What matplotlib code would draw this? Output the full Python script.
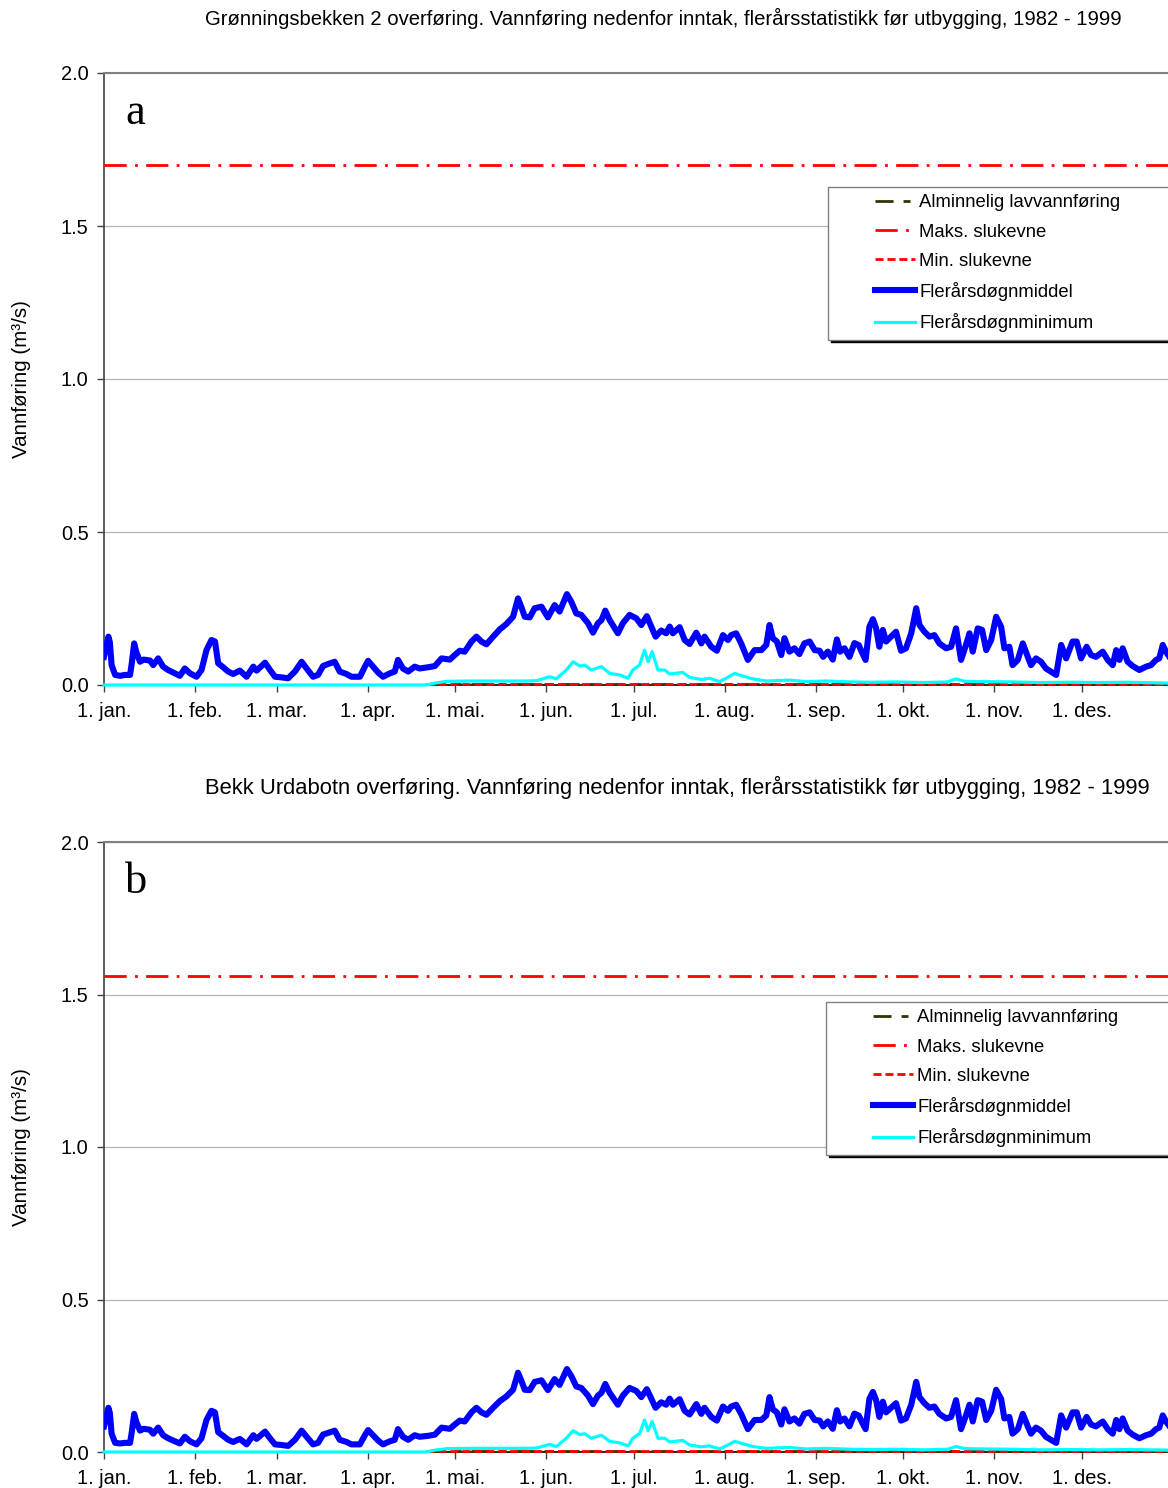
import matplotlib
matplotlib.use("Agg")
import matplotlib.pyplot as plt
from matplotlib.lines import Line2D
from matplotlib.legend_handler import HandlerTuple

plt.rcParams['font.family'] = ['Liberation Sans', 'DejaVu Sans']

# ---------------- data ----------------
month_days = [0, 31, 59, 90, 120, 151, 181, 212, 243, 273, 304, 334]
month_labels = ["1. jan.", "1. feb.", "1. mar.", "1. apr.", "1. mai.", "1. jun.",
                "1. jul.", "1. aug.", "1. sep.", "1. okt.", "1. nov.", "1. des."]

titles = ["Grønningsbekken 2 overføring. Vannføring nedenfor inntak, flerårsstatistikk før utbygging, 1982 - 1999",
          "Bekk Urdabotn overføring. Vannføring nedenfor inntak, flerårsstatistikk før utbygging, 1982 - 1999"]
panel_letters = ["a", "b"]
legend_labels = ["Alminnelig lavvannføring", "Maks. slukevne", "Min. slukevne",
                 "Flerårsdøgnmiddel", "Flerårsdøgnminimum"]

days_mean = [0, 1.5, 2, 2.6, 3.8, 5.5, 7.2, 8.9, 9.5, 10.3,
             11, 12.3, 13.5, 15.7, 16.8, 18.5, 20.2, 21.9, 24.2, 25.9,
             27.6, 29.4, 31.6, 33.3, 35, 36.7, 37.9, 39, 40.7, 42.4,
             44.1, 46.4, 48.7, 51, 52.1, 55, 56.7, 58.4, 60.6, 62.9,
             65.2, 67.5, 69.2, 71.4, 73.1, 74.8, 76.6, 78.8, 80.5, 82.8,
             84.5, 87.4, 89.1, 90.2, 91.9, 93.6, 95.3, 97.6, 99.3, 100.4,
             102.1, 103.9, 106.1, 107.8, 110.7, 113, 115.3, 118.1, 119.8, 121.5,
             123.2, 125.5, 127.2, 128.9, 130.6, 132.9, 135.2, 137.4, 139.7, 141.4,
             142.6, 143.7, 145.4, 147.1, 149.4, 151.6, 153.9, 155.6, 158.1, 159.6,
             161.3, 163, 165.3, 167, 168.7, 169.9, 171.2, 172.7, 175.5, 177.2,
             179.5, 181.8, 183.5, 185.4, 186.9, 188.4, 190.3, 192, 193.2, 194.3,
             196.6, 198.3, 200, 202.3, 204, 205.1, 207.4, 209.3, 211.4, 213.1,
             214.2, 215.9, 217.6, 219.9, 222.2, 224.5, 226.2, 227.3, 228.4, 229.8,
             231.3, 232.4, 234.1, 235.8, 237.5, 239.2, 241, 242.7, 244.4, 245.6,
             247.2, 248.9, 250.3, 251.4, 252.9, 254.6, 256.3, 257.8, 258.6, 260.1,
             261.4, 262.6, 263.7, 264.8, 266, 267.1, 268.8, 270.5, 272.2, 273.9,
             275.7, 277.4, 278.5, 280.2, 281.9, 283.6, 285.3, 287.6, 289.3, 291,
             292.7, 294.4, 295.6, 296.7, 298.4, 299.9, 301.3, 303, 304.7, 306.4,
             307.5, 309.2, 310.3, 312.1, 313.8, 315.5, 316.6, 318.3, 320, 321.7,
             323.4, 325.2, 326.9, 328.6, 330.8, 332.2, 333.7, 335.6, 337.1, 338.8,
             341.1, 342.8, 344.5, 345.7, 346.8, 347.9, 349.6, 351.3, 353.6, 355.9,
             357.6, 359.3, 360.4, 361.6, 362.7, 364]

mean_a = [0.092, 0.158, 0.14, 0.065, 0.033, 0.03, 0.033, 0.033, 0.072, 0.136,
          0.109, 0.076, 0.083, 0.08, 0.065, 0.087, 0.06, 0.049, 0.038, 0.03,
          0.054, 0.038, 0.027, 0.049, 0.114, 0.147, 0.142, 0.071, 0.058, 0.044,
          0.036, 0.047, 0.027, 0.06, 0.047, 0.073, 0.049, 0.027, 0.025, 0.022,
          0.044, 0.076, 0.054, 0.027, 0.033, 0.062, 0.069, 0.076, 0.044, 0.036,
          0.027, 0.027, 0.06, 0.079, 0.06, 0.041, 0.027, 0.038, 0.044, 0.082,
          0.054, 0.044, 0.06, 0.054, 0.058, 0.062, 0.087, 0.083, 0.098, 0.112,
          0.109, 0.142, 0.158, 0.142, 0.133, 0.158, 0.182, 0.199, 0.223, 0.283,
          0.253, 0.223, 0.221, 0.251, 0.256, 0.221, 0.261, 0.24, 0.297, 0.272,
          0.234, 0.229, 0.202, 0.171, 0.202, 0.212, 0.243, 0.212, 0.169, 0.202,
          0.229, 0.218, 0.196, 0.225, 0.191, 0.158, 0.178, 0.169, 0.191, 0.169,
          0.189, 0.147, 0.134, 0.171, 0.136, 0.158, 0.125, 0.112, 0.163, 0.147,
          0.163, 0.169, 0.136, 0.082, 0.114, 0.114, 0.131, 0.196, 0.153, 0.142,
          0.098, 0.153, 0.109, 0.12, 0.101, 0.136, 0.142, 0.114, 0.112, 0.092,
          0.109, 0.083, 0.149, 0.109, 0.12, 0.092, 0.137, 0.13, 0.112, 0.082,
          0.19, 0.215, 0.185, 0.125, 0.18, 0.142, 0.158, 0.174, 0.112, 0.12,
          0.169, 0.251, 0.196, 0.174, 0.158, 0.163, 0.136, 0.12, 0.125, 0.185,
          0.082, 0.131, 0.169, 0.109, 0.185, 0.18, 0.114, 0.147, 0.223, 0.19,
          0.12, 0.125, 0.065, 0.082, 0.136, 0.092, 0.065, 0.087, 0.076, 0.054,
          0.044, 0.033, 0.131, 0.087, 0.142, 0.142, 0.087, 0.125, 0.098, 0.092,
          0.109, 0.082, 0.065, 0.114, 0.082, 0.12, 0.076, 0.062, 0.049, 0.06,
          0.065, 0.082, 0.087, 0.131, 0.109, 0.09]

mean_b = [0.084, 0.145, 0.128, 0.060, 0.030, 0.028, 0.030, 0.030, 0.066, 0.125,
          0.100, 0.070, 0.076, 0.073, 0.060, 0.080, 0.055, 0.045, 0.035, 0.028,
          0.050, 0.035, 0.025, 0.045, 0.105, 0.135, 0.130, 0.065, 0.053, 0.040,
          0.033, 0.043, 0.025, 0.055, 0.043, 0.067, 0.045, 0.025, 0.023, 0.020,
          0.040, 0.070, 0.050, 0.025, 0.030, 0.057, 0.063, 0.070, 0.040, 0.033,
          0.025, 0.025, 0.055, 0.072, 0.055, 0.038, 0.025, 0.035, 0.040, 0.075,
          0.050, 0.040, 0.055, 0.050, 0.053, 0.057, 0.080, 0.076, 0.090, 0.103,
          0.100, 0.130, 0.145, 0.130, 0.122, 0.145, 0.167, 0.182, 0.204, 0.260,
          0.232, 0.204, 0.203, 0.230, 0.235, 0.203, 0.239, 0.220, 0.272, 0.249,
          0.215, 0.210, 0.185, 0.157, 0.185, 0.194, 0.223, 0.194, 0.155, 0.185,
          0.210, 0.200, 0.180, 0.206, 0.175, 0.145, 0.163, 0.155, 0.175, 0.155,
          0.173, 0.135, 0.123, 0.157, 0.125, 0.145, 0.115, 0.103, 0.149, 0.135,
          0.149, 0.155, 0.125, 0.075, 0.105, 0.105, 0.120, 0.180, 0.140, 0.130,
          0.090, 0.140, 0.100, 0.110, 0.093, 0.125, 0.130, 0.105, 0.103, 0.084,
          0.100, 0.076, 0.137, 0.100, 0.110, 0.084, 0.126, 0.119, 0.103, 0.075,
          0.174, 0.197, 0.170, 0.115, 0.165, 0.130, 0.145, 0.160, 0.103, 0.110,
          0.155, 0.230, 0.180, 0.160, 0.145, 0.149, 0.125, 0.110, 0.115, 0.170,
          0.075, 0.120, 0.155, 0.100, 0.170, 0.165, 0.105, 0.135, 0.204, 0.174,
          0.110, 0.115, 0.060, 0.075, 0.125, 0.084, 0.060, 0.080, 0.070, 0.050,
          0.040, 0.030, 0.120, 0.080, 0.130, 0.130, 0.080, 0.115, 0.090, 0.084,
          0.100, 0.075, 0.060, 0.105, 0.075, 0.110, 0.070, 0.057, 0.045, 0.055,
          0.060, 0.075, 0.080, 0.120, 0.100, 0.083]

days_min = [0, 110, 113, 117, 125, 135, 143, 147.7, 152.2, 154.5,
            157.9, 160.2, 162.5, 164.2, 166.4, 169.9, 172.7, 176.1, 179, 180.6,
            182.9, 184.6, 185.8, 187.2, 189.2, 191.5, 193.2, 194.9, 197.7, 200,
            204, 206.8, 210.2, 212.5, 215.4, 218.2, 221.6, 226.2, 234.1, 239.8,
            246.6, 255, 262, 270, 280, 288, 291, 294, 300, 310,
            320, 330, 340, 350, 364]

min_a = [0, 0, 0.006, 0.012, 0.013, 0.013, 0.013, 0.014, 0.027, 0.02,
         0.049, 0.076, 0.062, 0.065, 0.049, 0.06, 0.038, 0.033, 0.022, 0.049,
         0.065, 0.114, 0.076, 0.109, 0.049, 0.049, 0.036, 0.038, 0.041, 0.025,
         0.018, 0.022, 0.011, 0.022, 0.038, 0.029, 0.02, 0.013, 0.016, 0.011,
         0.013, 0.01, 0.009, 0.01, 0.008, 0.01, 0.02, 0.012, 0.011, 0.01,
         0.008, 0.009, 0.008, 0.009, 0.006]

min_b = [0, 0, 0.006, 0.011, 0.012, 0.012, 0.012, 0.013, 0.025, 0.018,
         0.045, 0.070, 0.057, 0.060, 0.045, 0.055, 0.035, 0.030, 0.020, 0.045,
         0.060, 0.105, 0.070, 0.100, 0.045, 0.045, 0.033, 0.035, 0.038, 0.023,
         0.017, 0.020, 0.010, 0.020, 0.035, 0.027, 0.018, 0.012, 0.015, 0.010,
         0.012, 0.009, 0.008, 0.009, 0.007, 0.009, 0.018, 0.011, 0.010, 0.009,
         0.007, 0.008, 0.007, 0.008, 0.006]

days_low = [110, 364]          # period where lavvannføring / min. slukevne are shown
lavvann = [0.003, 0.003]        # alminnelig lavvannføring (a, b)
min_slukevne = [0.004, 0.004]   # min. slukevne (a, b)
maks_slukevne = [1.70, 1.56]    # maks. slukevne (a, b)

# ---------------- figure ----------------
W, H = 1168, 1488
fig = plt.figure(figsize=(W / 100, H / 100), dpi=100)

FS_LEG = 13.3
FS_TICK = 14.4
FS_TITLE = [14.6, 15.8]
FS_YLAB = 14.8
day_span = 365
px_per_day = 2.928
ax_w = day_span * px_per_day / W

panels = [
    dict(top=73, bottom=685, title_y=18, mean=mean_a, mn=min_a, leg_top=187, leg_x=828),
    dict(top=842, bottom=1452, title_y=787, mean=mean_b, mn=min_b, leg_top=1002, leg_x=826),
]

for i, p in enumerate(panels):
    ax = fig.add_axes([104 / W, 1 - p['bottom'] / H, ax_w, (p['bottom'] - p['top']) / H])
    ax.set_xlim(0, day_span)
    ax.set_ylim(0, 2.0)

    lav, = ax.plot(days_low, [lavvann[i]] * 2, color='#333300', lw=2,
                   dashes=(6.5, 3.6, 2.5, 3.6), zorder=3, clip_on=False)
    maks, = ax.plot([0, day_span], [maks_slukevne[i]] * 2, color='#ff0000', lw=2,
                    dashes=(8, 3, 1, 3), zorder=3)
    mins, = ax.plot(days_low, [min_slukevne[i]] * 2, color='#ff0000', lw=2,
                    dashes=(2.9, 1.4), zorder=3.1, clip_on=False)
    mn, = ax.plot(days_min, p['mn'], color='#00ffff', lw=2.3, zorder=3.5,
                  clip_on=False, solid_joinstyle='round')
    me, = ax.plot(days_mean, p['mean'], color='#0000ff', lw=4.4, zorder=4,
                  solid_joinstyle='round')

    ax.set_xticks(month_days)
    ax.set_xticklabels(month_labels, fontsize=FS_TICK)
    ax.set_yticks([0, 0.5, 1.0, 1.5, 2.0])
    ax.set_yticklabels(["0.0", "0.5", "1.0", "1.5", "2.0"], fontsize=FS_TICK)
    ax.tick_params(axis='x', direction='out', length=5, width=1, pad=7, color='#404040')
    ax.tick_params(axis='y', direction='out', length=5, width=1, pad=6, color='#404040')
    ax.yaxis.grid(True, color='#b4b4b4', lw=0.9)
    ax.set_axisbelow(True)
    ax.spines['right'].set_visible(False)
    ax.spines['top'].set_color('#808080')
    ax.spines['top'].set_linewidth(1.5)
    ax.spines['left'].set_color('#404040')
    ax.spines['left'].set_linewidth(1.2)
    ax.spines['bottom'].set_color('#000000')
    ax.spines['bottom'].set_linewidth(1.2)

    ax.text(0.02, 0.935, panel_letters[i], transform=ax.transAxes, fontsize=32,
            family=['Liberation Serif', 'DejaVu Serif'], ha='left', va='center')

    fig.text(205 / W, 1 - p['title_y'] / H, titles[i], fontsize=FS_TITLE[i], ha='left', va='center')
    fig.text(22 / W, 1 - (p['top'] + p['bottom']) / 2 / H, "Vannføring (m³/s)",
             fontsize=FS_YLAB, rotation=90, ha='center', va='center')

    blank = Line2D([], [], linestyle='None')
    handles = [(blank, lav), (blank, maks), (blank, mins), (blank, me), (blank, mn)]
    axh = p['bottom'] - p['top']
    y_top = (p['bottom'] - p['leg_top']) / axh
    x0 = (p['leg_x'] - 104) / (ax_w * W)
    ax.legend(handles, legend_labels,
              handler_map={tuple: HandlerTuple(ndivide=None, pad=0)},
              loc='upper left', bbox_to_anchor=(x0, y_top - 0.3, 0.45, 0.3),
              mode='expand', borderaxespad=0, borderpad=0.4,
              handlelength=4.3, handletextpad=0.25, labelspacing=0.66,
              fontsize=FS_LEG, frameon=True, fancybox=False, framealpha=1,
              edgecolor='#808080',
              shadow={'color': 'black', 'alpha': 1.0})

fig.savefig("out.png", dpi=100)
